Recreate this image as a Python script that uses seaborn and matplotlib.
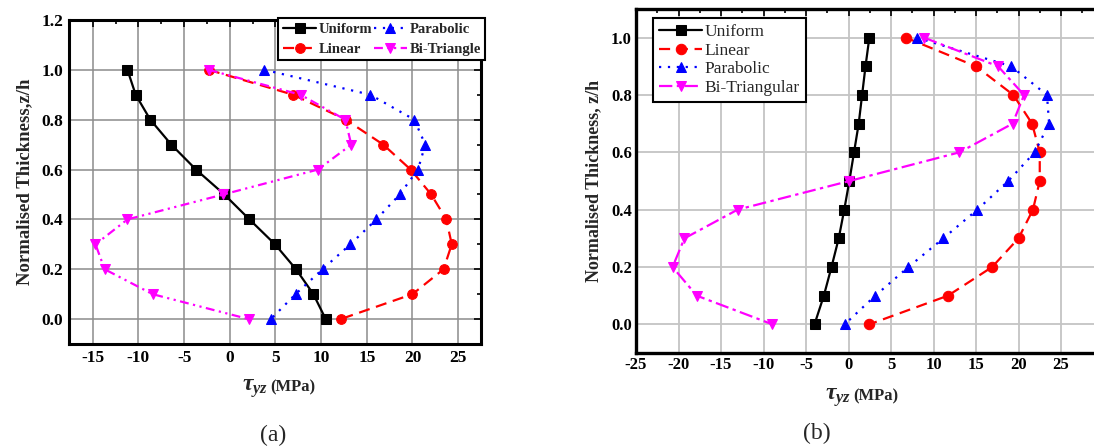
import matplotlib
matplotlib.use("Agg")
import matplotlib.pyplot as plt
import seaborn as sns
import pandas as pd
import numpy as np
from matplotlib.ticker import MultipleLocator

# ---------------- data ----------------
z = [1.0, 0.9, 0.8, 0.7, 0.6, 0.5, 0.4, 0.3, 0.2, 0.1, 0.0]

# panel (a)
a_uniform = [-11.2, -10.3, -8.7, -6.4, -3.7, -0.6, 2.15, 4.95, 7.25, 9.15, 10.5]
a_linear = [-2.3, 6.95, 12.7, 16.8, 19.8, 22.05, 23.7, 24.3, 23.4, 20.0, 12.15]
a_parabolic = [3.8, 15.4, 20.2, 21.4, 20.6, 18.6, 16.05, 13.2, 10.15, 7.2, 4.5]
a_bitri = [-2.3, 7.75, 12.65, 13.3, 9.65, -0.7, -11.2, -14.7, -13.7, -8.45, 2.05]

# panel (b)
b_uniform = [2.45, 2.0, 1.6, 1.2, 0.65, 0.1, -0.5, -1.15, -2.0, -2.9, -4.0]
b_linear = [6.75, 15.0, 19.4, 21.6, 22.5, 22.5, 21.7, 20.0, 16.9, 11.7, 2.45]
b_parabolic = [8.05, 19.15, 23.35, 23.6, 21.9, 18.8, 15.15, 11.15, 7.05, 3.15, -0.45]
b_bitri = [8.9, 17.6, 20.65, 19.3, 13.05, 0.1, -13.05, -19.3, -20.7, -17.85, -8.95]

a_names = ["Uniform", "Linear", "Parabolic", "Bi-Triangle"]
b_names = ["Uniform", "Linear", "Parabolic", "Bi-Triangular"]

a_ticks_x = [-15, -10, -5, 0, 5, 10, 15, 20, 25]
b_ticks_x = [-25, -20, -15, -10, -5, 0, 5, 10, 15, 20, 25]

# ---------------- style ----------------
sns.set_theme(style="white")
plt.rcParams["font.family"] = ["Liberation Serif", "DejaVu Serif"]
plt.rcParams["axes.unicode_minus"] = False
plt.rcParams["mathtext.fontset"] = "custom"
plt.rcParams["mathtext.it"] = "Liberation Serif:italic:bold"
plt.rcParams["mathtext.rm"] = "Liberation Serif:bold"
plt.rcParams["mathtext.bf"] = "Liberation Serif:bold"

colors = ["black", "red", "blue", "magenta"]
markers = ["s", "o", "^", "v"]

fig = plt.figure(figsize=(10.94, 4.48), dpi=100)
axA = fig.add_axes([69 / 1094, 104 / 448, 412 / 1094, 324 / 448])
axB = fig.add_axes([636 / 1094, 95 / 448, 467.5 / 1094, 344 / 448])


def draw(ax, values, names, lstyles, msize, lw):
    for v, n, c, m, ls in zip(values, names, colors, markers, lstyles):
        df = pd.DataFrame({"x": v, "z": z})
        sns.lineplot(data=df, x="x", y="z", sort=False, estimator=None, ax=ax,
                     color=c, marker=m, markersize=msize, markeredgecolor=c,
                     linestyle=ls, linewidth=lw, label=n)


a_styles = ["-", (0, (5, 3)), (0, (1, 3)), (0, (4, 2, 1, 2, 1, 2))]
b_styles = ["-", (0, (5, 3)), (0, (1, 3)), (0, (6, 2, 1.5, 2))]

draw(axA, [a_uniform, a_linear, a_parabolic, a_bitri], a_names, a_styles, 7, 1.6)
draw(axB, [b_uniform, b_linear, b_parabolic, b_bitri], b_names, b_styles, 7.5, 1.6)

# ---------------- axes A ----------------
axA.set_xlim(-17.6, 27.5)
axA.set_ylim(-0.1, 1.2)
axA.set_xticks(a_ticks_x)
axA.set_yticks(np.round(np.arange(0, 1.21, 0.2), 1))
axA.set_yticklabels([f"{t:.1f}" for t in np.arange(0, 1.21, 0.2)])
axA.xaxis.set_minor_locator(MultipleLocator(2.5))
axA.yaxis.set_minor_locator(MultipleLocator(0.1))
axA.grid(True, which="major", color="#8c8c8c", linewidth=1.1)
axA.tick_params(which="both", direction="in", top=True, right=True, labelsize=12.5,
                length=5, width=1.2, colors="black", pad=4)
axA.tick_params(which="minor", length=3)
for lab in axA.get_xticklabels() + axA.get_yticklabels():
    lab.set_fontweight("bold")
for sp in axA.spines.values():
    sp.set_linewidth(2.2)
    sp.set_color("black")
axA.set_xlabel("")
axA.set_ylabel("Normalised Thickness,z/h", fontsize=13.5, fontweight="bold", labelpad=6)
leg = axA.legend(ncol=2, loc="upper right", bbox_to_anchor=(1.01, 1.005), frameon=True,
                 fancybox=False, edgecolor="black", framealpha=1,
                 prop={"family": "Liberation Serif", "weight": "bold", "size": 10.5},
                 handlelength=2.3, handletextpad=0.15, columnspacing=0.1,
                 borderpad=0.3, labelspacing=0.45, borderaxespad=0.0)
leg.get_frame().set_linewidth(1.5)

# ---------------- axes B ----------------
axB.set_xlim(-25, 30)
axB.set_ylim(-0.1, 1.1)
axB.set_xticks(b_ticks_x)
axB.set_yticks(np.round(np.arange(0, 1.01, 0.2), 1))
axB.set_yticklabels([f"{t:.1f}" for t in np.arange(0, 1.01, 0.2)])
axB.xaxis.set_minor_locator(MultipleLocator(2.5))
axB.yaxis.set_minor_locator(MultipleLocator(0.1))
axB.grid(True, which="major", color="#c4c4c4", linewidth=1.3)
axB.tick_params(which="both", direction="in", top=True, right=True, labelsize=12,
                length=5, width=1.2, colors="black", pad=3)
axB.tick_params(which="minor", length=3)
for lab in axB.get_xticklabels() + axB.get_yticklabels():
    lab.set_fontweight("bold")
for sp in axB.spines.values():
    sp.set_linewidth(2.4)
    sp.set_color("black")
axB.set_xlabel("")
axB.set_ylabel("Normalised Thickness, z/h", fontsize=13, fontweight="bold", labelpad=6)
legB = axB.legend(ncol=1, loc="upper left", bbox_to_anchor=(0.036, 0.975), frameon=True,
                  fancybox=False, edgecolor="black", framealpha=1,
                  prop={"family": "Liberation Serif", "size": 12.5},
                  handlelength=2.5, handletextpad=0.15,
                  borderpad=0.35, labelspacing=0.15, borderaxespad=0.0)
legB.get_frame().set_linewidth(1.5)

# ---------------- x labels and panel labels ----------------
def xlabel(xc, yc):
    fig.text(xc / 1094, 1 - yc / 448, r"$\tau_{yz}$", fontsize=17, ha="right", va="baseline")
    fig.text(xc / 1094 + 0.002, 1 - yc / 448, "(MPa)", fontsize=12, fontweight="bold",
             ha="left", va="baseline")

xlabel(268, 391)
xlabel(851, 400)

fig.text(273 / 1094, 1 - 435 / 448, "(a)", fontsize=17, ha="center", va="center")
fig.text(817 / 1094, 1 - 433 / 448, "(b)", fontsize=17, ha="center", va="center")

fig.savefig("out.png", dpi=100)
